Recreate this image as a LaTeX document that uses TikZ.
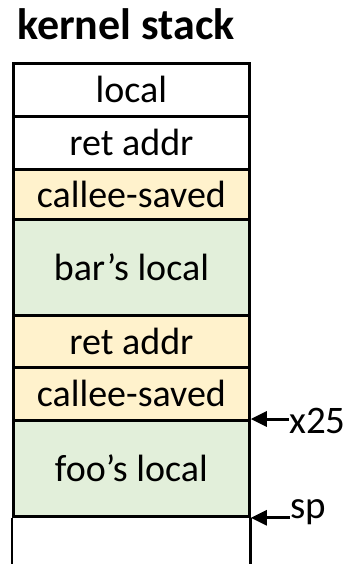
\documentclass[tikz,border=0pt]{standalone}
\usepackage{fontspec}
\setmainfont{Carlito}
\usetikzlibrary{arrows.meta}
\definecolor{yel}{HTML}{FFF2CC}
\definecolor{grn}{HTML}{E2EFDA}
\begin{document}
\begin{tikzpicture}[x=1pt,y=-1pt,
  cell/.style={draw=black,line width=2.8pt,minimum width=236pt,inner sep=0pt,anchor=north west,font=\fontsize{38}{42}\selectfont},
  ptr/.style={draw=black,line width=3pt,-{Triangle[length=16pt,width=15pt]}},
  lbl/.style={anchor=west,inner sep=0pt,font=\fontsize{39}{43}\selectfont}]
\useasboundingbox (0,0) rectangle (350,564);
\node[anchor=base west,inner sep=0pt,font=\fontsize{44}{48}\selectfont\bfseries] (title) at (17,40) {kernel stack};
\node[cell,fill=white,minimum height=53pt] (c1) at (12,62) {local};
\node[cell,fill=white,minimum height=53pt] (c2) at (12,115) {ret addr};
\node[cell,fill=yel,minimum height=50pt] (c3) at (12,168) {callee-saved};
\node[cell,fill=grn,minimum height=96pt] (c4) at (12,218) {bar’s local};
\node[cell,fill=yel,minimum height=52pt] (c5) at (12,314) {ret addr};
\node[cell,fill=yel,minimum height=53pt] (c6) at (12,366) {callee-saved};
\node[cell,fill=grn,minimum height=96pt] (c7) at (12,419) {foo’s local};
\coordinate (bl) at (c7.south west |- 0,570);
\coordinate (br) at (c7.south east |- 0,570);
\draw[line width=2.8pt] (c7.south west) -- (bl);
\draw[line width=2.8pt] (c7.south east) -- (br);
\node[lbl] (x25) at (289,421) {x25};
\node[lbl] (sp) at (290,512) {sp};
\draw[ptr] (x25.west |- c7.north east) -- (c7.north east);
\draw[ptr] (sp.west |- c7.south east) -- (c7.south east);
\end{tikzpicture}
\end{document}
